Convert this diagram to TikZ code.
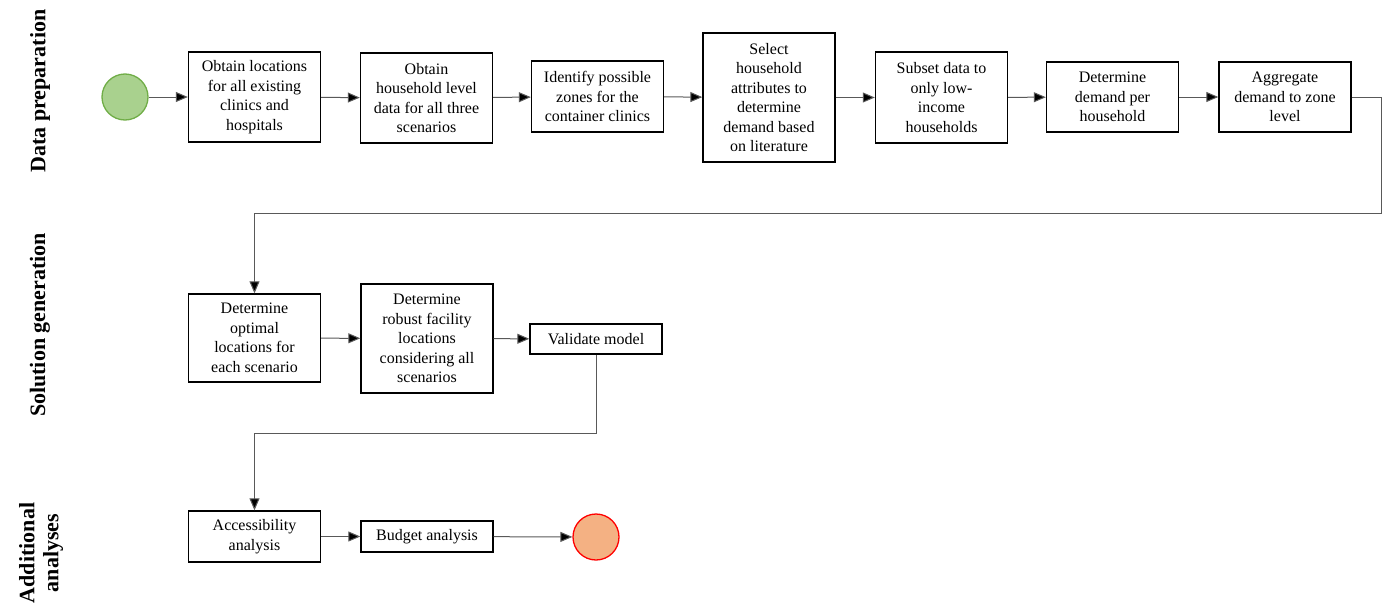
\documentclass[tikz,border=0pt]{standalone}
\usepackage{fontspec}
\setmainfont{Liberation Serif}
\usetikzlibrary{arrows.meta}
\definecolor{startgreen}{HTML}{A9D18E}
\definecolor{startedge}{HTML}{70AD47}
\definecolor{endorange}{HTML}{F4B183}
\definecolor{flowgray}{HTML}{595959}
\tikzset{
  stepbox/.style={
    draw,
    line width=1.4pt,
    align=center,
    inner sep=2pt,
    minimum width=132pt,
    font=\fontsize{16}{19.5}\selectfont
  },
  event/.style={
    shape = circle,
    draw,
    line width=1.3pt,
    minimum size=46pt,
    inner sep=0pt
  },
  lane/.style={
    rotate=90,
    align=center,
    font=\fontsize{22}{24}\selectfont\bfseries
  },
  flow/.style={
    draw=flowgray,
    line width=1pt,
    -{Triangle[length=12pt,width=10pt,fill=black]}
  }
}
\begin{document}
\begin{tikzpicture}[x=1pt,y=-1pt]
    \useasboundingbox (0,0) rectangle (1387,605);
    % lanes
    \node[lane] (lanedata) at (40,91) {Data preparation};
    \node[lane] (lanesolution) at (40,325) {Solution generation};
    \node[lane] (laneextra) at (41,553) {Additional\\ analyses};
    % data preparation
    \node[event, fill=startgreen, draw=startedge] (start) at (125,97) {};
    \node[stepbox, minimum height=90pt] (obtain) at (254.5,97) {Obtain locations\\ for all existing\\ clinics and\\ hospitals};
    \node[stepbox, minimum height=90pt] (household) at (426.5,98) {Obtain\\ household level\\ data for all three\\ scenarios};
    \node[stepbox, minimum height=71pt] (zones) at (597.5,96.5) {Identify possible\\ zones for the\\ container clinics};
    \node[stepbox, minimum height=129pt] (attributes) at (769,97.5) {Select\\ household\\ attributes to\\ determine\\ demand based\\ on literature};
    \node[stepbox, minimum height=91pt] (subset) at (941.5,97.5) {Subset data to\\ only low-\\ income\\ households};
    \node[stepbox, minimum height=70pt] (demand) at (1112.5,97) {Determine\\ demand per\\ household};
    \node[stepbox, minimum height=70pt] (aggregate) at (1285,97) {Aggregate\\ demand to zone\\ level};
    % solution generation
    \node[stepbox, minimum height=88pt] (optimal) at (254.5,338) {Determine\\ optimal\\ locations for\\ each scenario};
    \node[stepbox, minimum height=109pt] (robust) at (427,338.5) {Determine\\ robust facility\\ locations\\ considering all\\ scenarios};
    \node[stepbox, minimum height=30pt] (validate) at (596,339) {Validate model};
    % additional analyses
    \node[stepbox, minimum height=51pt] (access) at (254.5,536.5) {Accessibility\\ analysis};
    \node[stepbox, minimum height=31pt] (budget) at (427,536.5) {Budget analysis};
    \node[event, fill=endorange, draw=red] (finish) at (596,537) {};
    % connectors
    \foreach \a/\b in {start/obtain, obtain/household, household/zones, zones/attributes,
                       attributes/subset, subset/demand, demand/aggregate,
                       optimal/robust, robust/validate, access/budget, budget/finish}{
        \draw[flow] (\a) -- (\b);
    }
    \draw[flow] (aggregate.east) -- ++(30,0) |- (254.5,213) -- (optimal.north);
    \draw[flow] (validate.south) |- (254.5,433) -- (access.north);
\end{tikzpicture}
\end{document}
